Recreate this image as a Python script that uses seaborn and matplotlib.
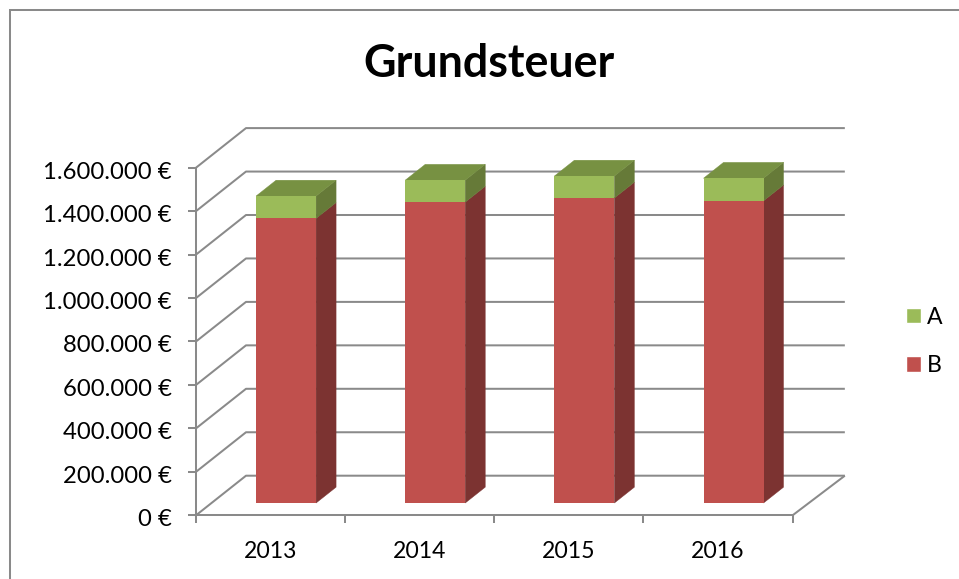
import matplotlib
matplotlib.use("Agg")
import matplotlib.pyplot as plt
from matplotlib.lines import Line2D
from matplotlib.patches import Patch, Polygon, Rectangle
from matplotlib.transforms import Affine2D, IdentityTransform
from matplotlib.ticker import FuncFormatter
import numpy as np
import seaborn as sns

years = ["2013", "2014", "2015", "2016"]
series_b = [1310000, 1385000, 1404000, 1391000]
series_a = [103000, 101000, 101000, 104000]
y_ticks = [0, 200000, 400000, 600000, 800000, 1000000, 1200000, 1400000, 1600000]

RED, RED_SIDE = "#C0504D", "#7C3331"
GREEN, GREEN_SIDE, GREEN_TOP = "#9BBB59", "#667A38", "#779142"
GRID = "#8A8A8A"
LW = 1.45
W, H = 959, 579
FRONT_L, FRONT_R, FRONT_B, FRONT_T = 196.0, 792.6, 515.3, 167.7
WALL_DX, WALL_DY = 50.0, 39.6
BACK_RIGHT = 3.515
BAR_DEPTH, BAR_D = 0.31, 0.40   # depth fractions of wall
BAR_W = 60 / 149.15
FS = 16.6
FS_Y = 17.2

sns.set_theme(style="white")
plt.rcParams["font.family"] = ["Lato", "DejaVu Sans"]

fig = plt.figure(figsize=(W / 100, H / 100), dpi=100)
fig.patch.set_facecolor("white")
ax = fig.add_axes([FRONT_L / W, 1 - FRONT_B / H, (FRONT_R - FRONT_L) / W, (FRONT_B - FRONT_T) / H])
ax.patch.set_alpha(0)
ax.set_xlim(-0.5, 3.5)
ax.set_ylim(0, 1600000)


def proj(x, v, d):
    px = ax.transData.transform((x, v))
    return (px[0] + d * WALL_DX, px[1] + d * WALL_DY)


def line(pts, z=1):
    xs, ys = zip(*pts)
    ax.plot(xs, ys, color=GRID, lw=LW, transform=IdentityTransform(), clip_on=False,
            zorder=z, solid_capstyle="butt")


def poly(pts, color, z):
    ax.add_patch(Polygon(pts, closed=True, facecolor=color, edgecolor=color, lw=0.3,
                         transform=IdentityTransform(), clip_on=False, zorder=z))


# walls and floor
for v in y_ticks:
    line([proj(-0.5, v, 0), proj(-0.5, v, 1), proj(BACK_RIGHT, v, 1)])
line([proj(3.5, 0, 0), proj(BACK_RIGHT, 0, 1)])

# stacked bars: totals first, then series B over them, shifted into the floor depth
totals = np.array(series_a) + np.array(series_b)
sns.barplot(x=years, y=totals, color=GREEN, saturation=1, width=BAR_W, ax=ax, zorder=5)
sns.barplot(x=years, y=series_b, color=RED, saturation=1, width=BAR_W, ax=ax, zorder=6)
ax.set_xlim(-0.5, 3.5)
ax.set_ylim(0, 1600000)
shift = ax.transData + Affine2D().translate(BAR_DEPTH * WALL_DX, BAR_DEPTH * WALL_DY)
for p in ax.patches:
    if isinstance(p, Rectangle):
        p.set_transform(shift)
        p.set_clip_on(False)
        p.set_linewidth(0)

# side and top faces
d0, d1 = BAR_DEPTH, BAR_DEPTH + BAR_D
for i, (b, t) in enumerate(zip(series_b, totals)):
    xr = i + BAR_W / 2
    xl = i - BAR_W / 2
    poly([proj(xr, 0, d0), proj(xr, b, d0), proj(xr, b, d1), proj(xr, 0, d1)], RED_SIDE, 4)
    poly([proj(xr, b, d0), proj(xr, t, d0), proj(xr, t, d1), proj(xr, b, d1)], GREEN_SIDE, 4)
    poly([proj(xl, t, d0), proj(xr, t, d0), proj(xr, t, d1), proj(xl, t, d1)], GREEN_TOP, 4)

# axes
ax.set_xlabel("")
ax.set_ylabel("")
for s in ["top", "right"]:
    ax.spines[s].set_visible(False)
for s in ["left", "bottom"]:
    ax.spines[s].set_color(GRID)
    ax.spines[s].set_linewidth(LW)
ax.set_yticks(y_ticks)
ax.yaxis.set_major_formatter(FuncFormatter(lambda v, _: f"{int(v):,}".replace(",", ".") + " €"))
ax.set_xticks([-0.5, 0.5, 1.5, 2.5, 3.5], minor=False)
ax.set_xticklabels([])
ax.set_xticks([0, 1, 2, 3], minor=True)
ax.set_xticklabels(years, minor=True)
ax.tick_params(axis="y", which="major", length=6, width=LW, color=GRID, labelsize=FS_Y,
               labelcolor="black", pad=11.5, left=True)
ax.tick_params(axis="x", which="major", length=6, width=LW, color=GRID, bottom=True)
ax.tick_params(axis="x", which="minor", length=0, labelsize=FS, labelcolor="black", pad=18.5)
for lab in ax.get_yticklabels():
    lab.set_transform(lab.get_transform() + Affine2D().translate(0, -2.5))

# chart frame: left and top edges only
fig.add_artist(Line2D([9.5 / W, 9.5 / W, 1], [0, 1 - 10 / H, 1 - 10 / H], transform=fig.transFigure,
                      color=GRID, lw=LW, solid_joinstyle="miter"))

fig.text(489 / W, 1 - 64 / H, "Grundsteuer", ha="center", va="center", fontsize=32.3,
         fontweight="bold", color="black")

handles = [Patch(facecolor=GREEN, label="A"), Patch(facecolor=RED, label="B")]
fig.legend(handles=handles, loc="center left", bbox_to_anchor=(906 / W, 1 - 341.5 / H), frameon=False,
           fontsize=FS, handlelength=0.65, handleheight=0.65, handletextpad=0.27,
           labelspacing=1.18, borderpad=0, borderaxespad=0, labelcolor="black")

fig.savefig("out.png", dpi=100)
